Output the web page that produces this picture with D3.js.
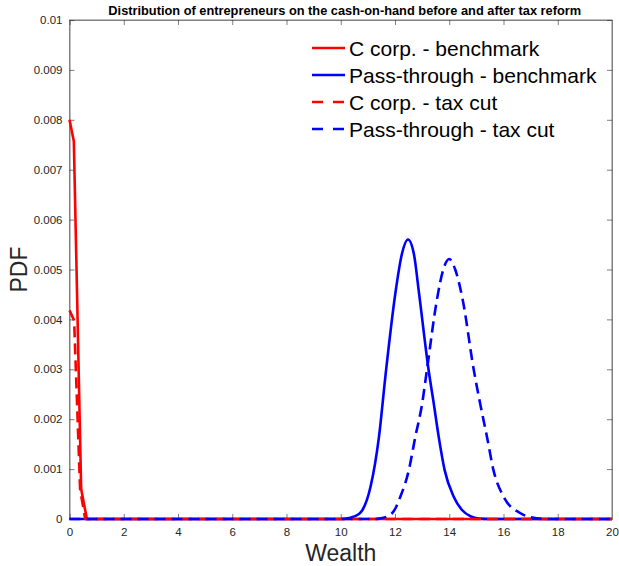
<!DOCTYPE html>
<html>
<head>
<meta charset="utf-8">
<script src="https://cdn.jsdelivr.net/npm/d3@7"></script>
<style>
  body { margin: 0; background: #fff; }
  svg { display: block; font-family: "Liberation Sans", Arial, Helvetica, sans-serif; }
</style>
</head>
<body>
<svg id="chart" width="619" height="566"></svg>
<script>
// Cash-on-hand densities (wealth, PDF) for each entrepreneur type and scenario
const cCorpBenchX = [0, 0.16, 0.43, 0.64, 20];
const cCorpBenchY = [0.0080, 0.00757, 0.0006, 0, 0];

const passBenchX = [0, 10.0, 10.3, 10.67, 10.8, 11.1, 11.41, 11.65, 12.02, 12.25, 12.48, 12.7, 12.88, 13.24, 13.43, 13.61, 13.83, 14.16, 14.47, 14.8, 15.08, 15.5, 20];
const passBenchY = [0, 0, 0.00002, 0.0001, 0.00018, 0.00065, 0.00165, 0.00288, 0.00455, 0.0053, 0.0056, 0.0053, 0.00455, 0.00298, 0.00231, 0.00165, 0.00098, 0.00045, 0.00018, 0.00005, 0.00001, 0, 0];

const cCorpCutX = [0, 0.17, 0.39, 0.58, 20];
const cCorpCutY = [0.00418, 0.00398, 0.0006, 0, 0];

const passCutX = [0, 11.2, 11.53, 11.9, 12.2, 12.51, 12.75, 13.0, 13.18, 13.55, 13.78, 14.0, 14.22, 14.49, 14.9, 15.14, 15.39, 15.63, 16.0, 16.61, 17.16, 17.6, 20];
const passCutY = [0, 0, 0.00002, 0.00012, 0.00045, 0.00098, 0.00165, 0.00231, 0.003, 0.00441, 0.005, 0.00521, 0.005, 0.00441, 0.003, 0.00231, 0.00165, 0.00098, 0.00045, 0.00012, 0.00002, 0, 0];

const seriesNames = ["C corp. - benchmark", "Pass-through - benchmark", "C corp. - tax cut", "Pass-through - tax cut"];
const xTicks = [0, 2, 4, 6, 8, 10, 12, 14, 16, 18, 20];
const yTicks = [0, 0.001, 0.002, 0.003, 0.004, 0.005, 0.006, 0.007, 0.008, 0.009, 0.01];

const titleText = "Distribution of entrepreneurs on the cash-on-hand before and after tax reform";
const xLabel = "Wealth";
const yLabel = "PDF";

const svg = d3.select("#chart");
const margin = { left: 69.5, right: 7, top: 20, bottom: 47 };
const W = 619, H = 566;
const x = d3.scaleLinear().domain([0, 20]).range([margin.left, W - margin.right]);
const y = d3.scaleLinear().domain([0, 0.01]).range([H - margin.bottom, margin.top]);

const axisColor = "#262626";
const frameColor = "#808080";
const tickLen = 5;

// Plot frame
svg.append("rect")
  .attr("x", x(0)).attr("y", y(0.01))
  .attr("width", x(20) - x(0)).attr("height", y(0) - y(0.01))
  .attr("fill", "none").attr("stroke", frameColor).attr("stroke-width", 1);

// Axes with inward ticks, mirrored on top/right
const gx = svg.append("g").attr("transform", `translate(0,${y(0)})`)
  .call(d3.axisBottom(x).tickValues(xTicks).tickSize(-tickLen).tickPadding(9).tickFormat(d3.format("d")));
const gxTop = svg.append("g").attr("transform", `translate(0,${y(0.01)})`)
  .call(d3.axisTop(x).tickValues(xTicks).tickSize(-tickLen).tickFormat(""));
const gy = svg.append("g").attr("transform", `translate(${x(0)},0)`)
  .call(d3.axisLeft(y).tickValues(yTicks).tickSize(-tickLen).tickPadding(7).tickFormat(d => d === 0 ? "0" : d3.format("")(+d.toFixed(3))));
const gyRight = svg.append("g").attr("transform", `translate(${x(20)},0)`)
  .call(d3.axisRight(y).tickValues(yTicks).tickSize(-tickLen).tickFormat(""));

[gx, gxTop, gy, gyRight].forEach(g => {
  g.select(".domain").attr("stroke", frameColor);
  g.selectAll(".tick line").attr("stroke", axisColor).attr("stroke-width", 0.6);
  g.selectAll(".tick text").attr("fill", axisColor).attr("font-size", 11.5)
    .attr("font-family", "Liberation Sans, Arial, sans-serif");
});

// Curves
const makeSeries = (xs, ys) => xs.map((v, i) => ({ w: v, p: ys[i] }));
const series = [
  { name: seriesNames[0], data: makeSeries(cCorpBenchX, cCorpBenchY), color: "#ff0000", dash: null, curve: d3.curveLinear },
  { name: seriesNames[1], data: makeSeries(passBenchX, passBenchY), color: "#0000ff", dash: null, curve: d3.curveMonotoneX },
  { name: seriesNames[2], data: makeSeries(cCorpCutX, cCorpCutY), color: "#ff0000", dash: "11,6", curve: d3.curveLinear },
  { name: seriesNames[3], data: makeSeries(passCutX, passCutY), color: "#0000ff", dash: "11,6", curve: d3.curveMonotoneX }
];

series.forEach(s => {
  const line = d3.line().x(d => x(d.w)).y(d => y(d.p)).curve(s.curve);
  svg.append("path")
    .datum(s.data)
    .attr("d", line)
    .attr("fill", "none")
    .attr("stroke", s.color)
    .attr("stroke-width", 2.6)
    .attr("stroke-linejoin", "round")
    .attr("stroke-dasharray", s.dash);
});

// Legend (no box)
const legend = svg.append("g");
series.forEach((s, i) => {
  const cy = 48 + i * 27;
  legend.append("line")
    .attr("x1", 312).attr("x2", 345).attr("y1", cy).attr("y2", cy)
    .attr("stroke", s.color).attr("stroke-width", 2.6)
    .attr("stroke-dasharray", s.dash ? "11,10" : null);
  legend.append("text")
    .attr("x", 349).attr("y", cy + 7.5)
    .attr("font-size", 21).attr("fill", "#000")
    .text(s.name);
});

// Title and axis labels
svg.append("text")
  .attr("x", (x(0) + x(20)) / 2 + 4).attr("y", 15)
  .attr("text-anchor", "middle").attr("font-size", 12.8).attr("font-weight", "bold")
  .attr("fill", "#000")
  .text(titleText);

svg.append("text")
  .attr("x", (x(0) + x(20)) / 2).attr("y", 561)
  .attr("text-anchor", "middle").attr("font-size", 23).attr("fill", axisColor)
  .text(xLabel);

svg.append("text")
  .attr("transform", `translate(27,${(y(0) + y(0.01)) / 2}) rotate(-90)`)
  .attr("text-anchor", "middle").attr("font-size", 23).attr("fill", axisColor)
  .text(yLabel);
</script>
</body>
</html>
